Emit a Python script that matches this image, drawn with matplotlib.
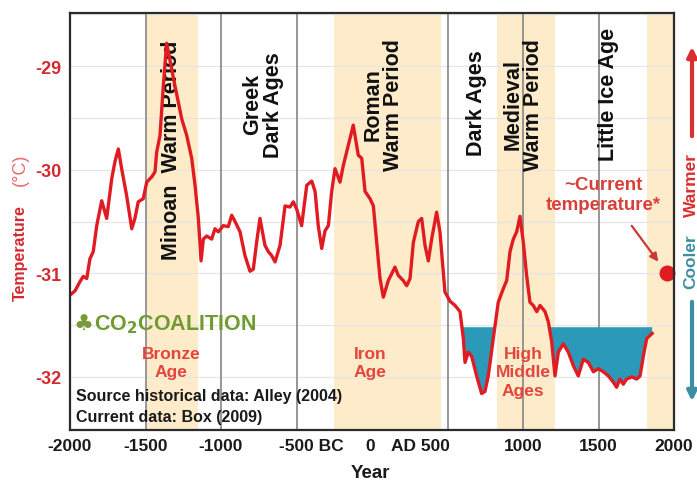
import numpy as np
import matplotlib
matplotlib.use("Agg")
import matplotlib.pyplot as plt
from matplotlib.transforms import blended_transform_factory, ScaledTranslation

# ---------------- data ----------------
years = [-2000, -1967, -1934, -1912, -1889, -1868, -1846, -1823, -1790, -1757,
         -1724, -1702, -1680, -1658, -1625, -1591, -1570, -1548, -1515, -1492,
         -1459, -1437, -1426, -1404, -1382, -1360, -1305, -1260, -1227, -1194,
         -1172, -1150, -1132, -1117, -1095, -1062, -1040, -1018, -985, -952,
         -929, -907, -874, -841, -808, -786, -764, -742, -709, -687,
         -664, -642, -609, -576, -543, -521, -499, -466, -432, -399,
         -377, -356, -333, -311, -289, -267, -245, -212, -190, -168,
         -124, -91, -68, -46, -13, 9, 31, 53, 75, 108,
         152, 174, 207, 230, 252, 274, 307, 329, 351, 373,
         395, 428, 450, 483, 517, 550, 583, 605, 616, 638,
         660, 693, 726, 748, 770, 803, 836, 869, 892, 914,
         936, 958, 980, 1002, 1024, 1046, 1068, 1091, 1113, 1146,
         1168, 1190, 1212, 1234, 1267, 1300, 1333, 1366, 1399, 1433,
         1466, 1499, 1532, 1565, 1598, 1620, 1642, 1664, 1687, 1720,
         1753, 1775, 1797, 1819, 1841, 1855]
temps = [-31.21, -31.17, -31.08, -31.03, -31.05, -30.86, -30.79, -30.54, -30.30, -30.47,
         -30.09, -29.92, -29.80, -29.99, -30.25, -30.57, -30.47, -30.31, -30.28, -30.12,
         -30.07, -30.02, -29.83, -29.67, -29.19, -28.78, -29.19, -29.51, -29.67, -29.89,
         -30.15, -30.47, -30.88, -30.67, -30.64, -30.67, -30.57, -30.60, -30.54, -30.55,
         -30.44, -30.50, -30.60, -30.83, -30.98, -30.96, -30.70, -30.47, -30.73, -30.79,
         -30.83, -30.89, -30.73, -30.35, -30.36, -30.31, -30.38, -30.54, -30.15, -30.11,
         -30.21, -30.54, -30.76, -30.59, -30.54, -30.21, -29.99, -30.12, -29.96, -29.83,
         -29.57, -29.86, -29.89, -30.21, -30.28, -30.35, -30.70, -31.05, -31.23, -31.07,
         -30.94, -31.02, -31.07, -31.12, -31.05, -30.70, -30.50, -30.47, -30.73, -30.88,
         -30.67, -30.41, -30.60, -31.18, -31.27, -31.31, -31.37, -31.63, -31.86, -31.76,
         -31.80, -31.99, -32.16, -32.14, -31.99, -31.63, -31.28, -31.15, -31.07, -30.79,
         -30.67, -30.60, -30.45, -30.70, -31.02, -31.28, -31.31, -31.37, -31.31, -31.37,
         -31.47, -31.66, -31.99, -31.76, -31.68, -31.76, -31.89, -31.99, -31.83, -31.86,
         -31.95, -31.92, -31.95, -31.99, -32.05, -32.10, -32.02, -32.07, -32.02, -32.00,
         -32.02, -31.99, -31.80, -31.63, -31.60, -31.58]

current_year = 1955
current_temp = -31.0
cool_level = -31.52

warm_bands = [(-1490, -1150), (-250, 460), (830, 1210), (1820, 2000)]
divider_years = [-1500, -1000, -500, 500, 1000, 1500]

period_labels = ["Minoan  Warm Period", "Greek\nDark Ages", "Roman\nWarm Period",
                 "Dark Ages", "Medieval\nWarm Period", "Little Ice Age"]
period_x = [-1325, -722, 73, 695, 1000, 1563]
period_y = [0.674, 0.782, 0.782, 0.786, 0.782, 0.806]

age_labels = ["Bronze\nAge", "Iron\nAge", "High\nMiddle\nAges"]
age_x = [-1330, -10, 1000]
age_y = [-31.86, -31.86, -31.95]

xtick_pos = [-2000, -1500, -1000, -500, 0, 500, 1000, 1500, 2000]
xtick_labels = ["-2000", "-1500", "-1000", "-500 BC", "0", "AD 500", "1000", "1500", "2000"]
xtick_shift_px = [0, 0, 0, 15, -2, -27, 0, 0, 0]
ytick_pos = [-29, -30, -31, -32]
ytick_labels = ["-29", "-30", "-31", "-32"]

# ---------------- style ----------------
FONT = ["Liberation Sans", "DejaVu Sans"]
plt.rcParams['font.family'] = FONT
RED = '#e01b22'
LRED = '#e4453d'
TEAL = '#2b9ab8'
BAND = '#fdebc9'

fig = plt.figure(figsize=(6.97, 4.85), dpi=100)
ax = fig.add_axes([70/697, 1-431/485, (674-70)/697, (431-14)/485])
ax.set_xlim(-2000, 2000)
ax.set_ylim(-32.512, -28.488)

for a, b in warm_bands:
    ax.axvspan(a, b, color=BAND, lw=0, zorder=0)
for yv in np.arange(-32.5, -28.4, 0.5):
    ax.axhline(yv, color='#e6e6e6', lw=0.9, zorder=1)
for xv in divider_years:
    ax.axvline(xv, color='#8f8f8f', lw=1.3, zorder=2)

yr = np.array(years, float)
tp = np.array(temps, float)
ax.fill_between(yr, tp, cool_level, where=tp < cool_level, interpolate=True,
                color=TEAL, lw=0, zorder=3)
ax.plot(yr, tp, color=RED, lw=2.4, zorder=6, solid_joinstyle='round')
ax.plot([current_year], [current_temp], 'o', color=RED, ms=10.5, zorder=7, clip_on=False)

for spine in ax.spines.values():
    spine.set_color('#2b2b2b')
    spine.set_linewidth(1.6)
    spine.set_zorder(8)

ax.set_yticks(ytick_pos, ytick_labels)
ax.tick_params(axis='y', length=0, pad=6, labelcolor='#d42a2f', labelsize=13)
for t in ax.get_yticklabels():
    t.set_fontweight('bold')
ax.set_xticks(xtick_pos, [''] * len(xtick_pos))
ax.tick_params(axis='x', length=0)

btr = blended_transform_factory(ax.transData, ax.transAxes)
for xp, lab, dx in zip(xtick_pos, xtick_labels, xtick_shift_px):
    ax.text(xp, -0.018, lab,
            transform=btr + ScaledTranslation(dx / fig.dpi, 0, fig.dpi_scale_trans),
            ha='center', va='top', fontsize=12.5, fontweight='bold', color='#1a1a1a',
            clip_on=False)

fig.text(370/697, 1-474/485, "Year", ha='center', va='center', fontsize=13.5,
         fontweight='bold', color='#1a1a1a')
fig.text(20/697, 1-253/485, "Temperature", rotation=90, ha='center', va='center',
         fontsize=11.5, fontweight='bold', color='#d42a2f')
fig.text(20/697, 1-170/485, "(°C)", rotation=90, ha='center', va='center',
         fontsize=13, color='#e86a6c')

for lab, xp, yp in zip(period_labels, period_x, period_y):
    ax.text(xp, yp, lab, transform=btr, rotation=90, ha='center', va='center',
            multialignment='center', linespacing=0.95, fontsize=15.5,
            fontweight='bold', color='#111111', zorder=5)

for lab, xp, yp in zip(age_labels, age_x, age_y):
    ax.text(xp, yp, lab, ha='center', va='center', fontsize=12.5, fontweight='bold',
            color=LRED, linespacing=1.3, zorder=7)

ax.text(-1960, -32.28, "Source historical data: Alley (2004)\nCurrent data: Box (2009)",
        ha='left', va='center', fontsize=11.5, fontweight='bold', color='#1a1a1a',
        linespacing=1.45, zorder=7)

ax.text(-1910, -31.49, "♣", ha='center', va='center', fontsize=16, color='#7a9a3a',
        family='DejaVu Sans', zorder=7)
ax.text(-1840, -31.49, r"CO$_\mathbf{2}$COALITION", ha='left', va='center', fontsize=15.5,
        fontweight='bold', color='#6f9b2f', zorder=7)

ax.text(1530, -30.24, "~Current\ntemperature*", ha='center', va='center', fontsize=13.5,
        fontweight='bold', color='#d9403a', linespacing=1.2, zorder=7)
ax.annotate("", xy=(1907, -30.91), xytext=(1709, -30.52),
            arrowprops=dict(arrowstyle='-|>', color='#c93a35', lw=1.6,
                            mutation_scale=12), zorder=7)

# Warmer / Cooler indicator at the right edge
fig.text(691/697, 1-185/485, "Warmer", rotation=90, ha='center', va='center',
         fontsize=12.5, fontweight='bold', color='#d9302f')
fig.text(691/697, 1-262/485, "Cooler", rotation=90, ha='center', va='center',
         fontsize=12.5, fontweight='bold', color='#3d8fa3')
fig.add_artist(matplotlib.patches.FancyArrowPatch(
    (692/697, 1-140/485), (692/697, 1-45/485), transform=fig.transFigure,
    arrowstyle='-|>', mutation_scale=14, lw=3, color='#d9302f'))
fig.add_artist(matplotlib.patches.FancyArrowPatch(
    (692/697, 1-300/485), (692/697, 1-405/485), transform=fig.transFigure,
    arrowstyle='-|>', mutation_scale=14, lw=3, color='#3d8fa3'))

fig.savefig("out.png", dpi=100)
